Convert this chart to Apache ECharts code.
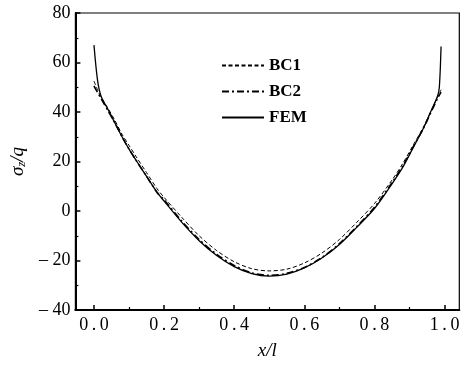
<!DOCTYPE html>
<html><head><meta charset="utf-8">
<script src="https://cdn.jsdelivr.net/npm/echarts@6/dist/echarts.min.js"></script>
<style>html,body{margin:0;padding:0;background:#fff}#c{width:462px;height:365px}</style>
</head><body><div id="c"></div>
<script>
const xFEM = [0.0,0.01,0.02,0.04,0.06,0.08,0.10,0.12,0.15,0.18,0.20,0.25,0.30,0.35,0.40,0.45,0.50,0.55,0.60,0.65,0.70,0.75,0.80,0.85,0.88,0.91,0.94,0.96,0.98,0.985,0.99];
const yFEM = [67,53,46.5,41,35.5,30,25,20.5,14,7.5,4,-4.5,-12,-18,-22.5,-25.3,-26.3,-25.5,-23,-19,-13.5,-6.5,1,11,17.5,25.5,33.5,40,46.5,50,66.5];
const xBC1 = [0.0,0.01,0.02,0.04,0.06,0.08,0.10,0.12,0.15,0.18,0.20,0.25,0.30,0.35,0.40,0.45,0.50,0.55,0.60,0.65,0.70,0.75,0.80,0.85,0.88,0.91,0.94,0.96,0.98,0.99];
const yBC1 = [52.5,49,46,41.5,36.5,31,26.5,22,15.5,9,5.5,-2.5,-10,-16,-20.5,-23.3,-24.2,-23.5,-21,-17,-11.5,-4.5,3,12.5,19,26.5,34,40,46,49];
const xBC2 = [0.0,0.01,0.02,0.04,0.06,0.08,0.10,0.12,0.15,0.18,0.20,0.25,0.30,0.35,0.40,0.45,0.50,0.55,0.60,0.65,0.70,0.75,0.80,0.85,0.88,0.91,0.94,0.96,0.98,0.99];
const yBC2 = [50.5,48,45.5,40.5,35.5,30,25,20.5,14,7.5,4.5,-4,-11.5,-17.5,-22,-25,-26,-25.2,-22.8,-18.8,-13.2,-6.2,1.5,11.5,18,25.8,33.5,39.5,45.5,48];
const xMajor = [0,0.2,0.4,0.6,0.8,1.0];
const xMinor = [0.1,0.3,0.5,0.7,0.9];
const zip = (xs, ys) => xs.map((x, i) => [x, ys[i]]);
const font = 'Liberation Serif';
const chart = echarts.init(document.getElementById('c'));
chart.setOption({
  animation: false,
  grid: {left: 64, right: 2, top: 13, bottom: 52, show: true, borderColor: '#000', borderWidth: 1.2},
  legend: {
    orient: 'vertical', left: 216, top: 52, itemWidth: 42, itemHeight: 12, itemGap: 9,
    itemStyle: {opacity: 0},
    textStyle: {fontFamily: font, fontSize: 17, color: '#000', fontWeight: 'bold'},
    data: ['BC1', 'BC2', 'FEM']
  },
  xAxis: [{
    type: 'value', min: -0.053, max: 1.042,
    axisLine: {onZero: false, lineStyle: {color: '#000', width: 2}},
    axisTick: {inside: true, length: 5, lineStyle: {color: '#000', width: 1.5}, customValues: xMajor},
    axisLabel: {customValues: xMajor, color: '#000', fontFamily: font, fontSize: 18, margin: 6,
      formatter: v => v.toFixed(1).split('').join('\u2009')},
    splitLine: {show: false},
    name: 'x/l', nameLocation: 'middle', nameGap: 31,
    nameTextStyle: {fontFamily: font, fontSize: 19, fontStyle: 'italic', color: '#000'}
  }, {
    type: 'value', min: -0.053, max: 1.042, position: 'bottom',
    axisLine: {show: false, onZero: false},
    axisTick: {inside: true, length: 3, lineStyle: {color: '#000', width: 1.2}, customValues: xMinor},
    axisLabel: {show: false}, splitLine: {show: false}
  }],
  yAxis: {
    type: 'value', min: -40, max: 80, interval: 20,
    axisLine: {onZero: false, lineStyle: {color: '#000', width: 2}},
    axisTick: {inside: true, length: 5, lineStyle: {color: '#000', width: 1.5}},
    minorTick: {show: true, splitNumber: 2, length: 3, lineStyle: {color: '#000', width: 1.2}},
    axisLabel: {color: '#000', fontFamily: font, fontSize: 18, margin: 5,
      formatter: v => v < 0 ? '\u2013 ' + (-v) : String(v)},
    splitLine: {show: false},
    name: '{a|σ}{b|z}{a|/q}', nameLocation: 'middle', nameGap: 42,
    nameTextStyle: {rich: {
      a: {fontFamily: font, fontSize: 19, fontStyle: 'italic', color: '#000'},
      b: {fontFamily: font, fontSize: 13, fontStyle: 'italic', color: '#000', padding: [8, 0, 0, 0]}
    }}
  },
  series: [
    {name: 'BC1', type: 'line', data: zip(xBC1, yBC1), showSymbol: false, symbol: 'none', smooth: 0.3,
      lineStyle: {color: '#000', width: 1, type: [4, 2.5]}, itemStyle: {color: '#000'}},
    {name: 'BC2', type: 'line', data: zip(xBC2, yBC2), showSymbol: false, symbol: 'none', smooth: 0.3,
      lineStyle: {color: '#000', width: 1.6, type: [7, 3, 2, 3]}, itemStyle: {color: '#000'}},
    {name: 'FEM', type: 'line', data: zip(xFEM, yFEM), showSymbol: false, symbol: 'none', smooth: 0.3,
      lineStyle: {color: '#000', width: 1.3}, itemStyle: {color: '#000'}}
  ]
});
</script></body></html>
